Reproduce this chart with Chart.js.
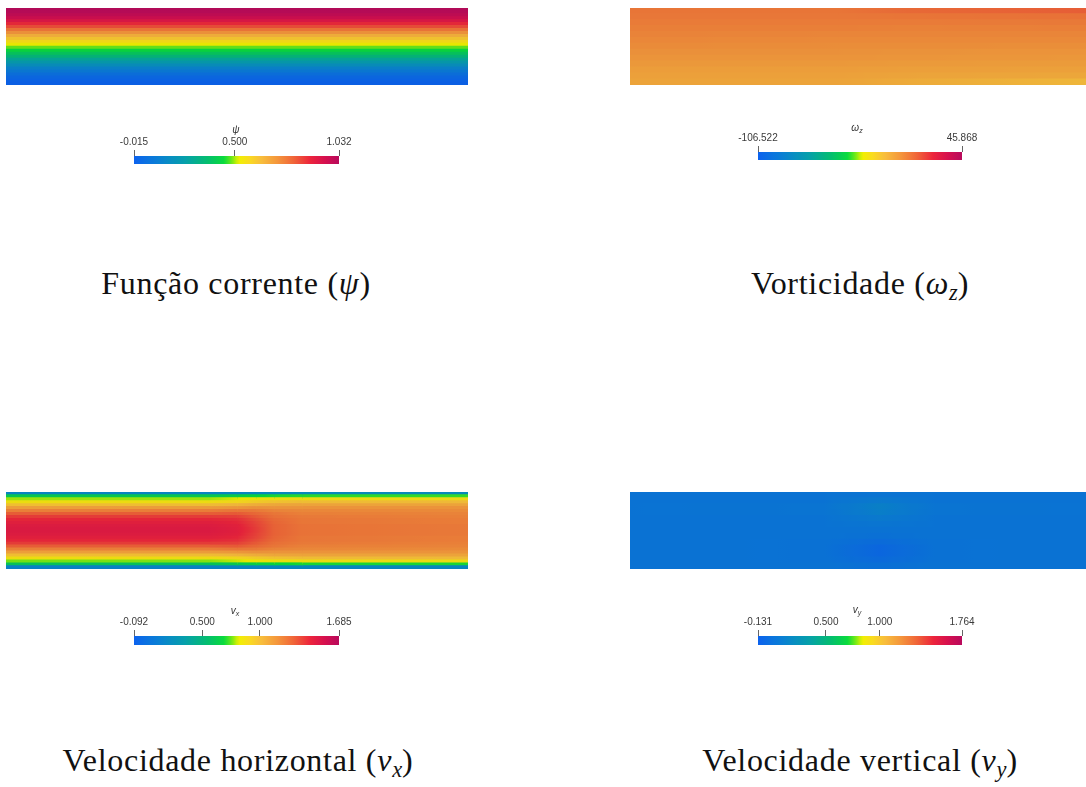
<!DOCTYPE html>
<html>
<head>
<meta charset="utf-8">
<script src="https://cdn.jsdelivr.net/npm/chart.js@4"></script>
<style>
  html, body { margin: 0; padding: 0; background: #fff; overflow: hidden; width: 1086px; height: 787px; }
  canvas { position: absolute; display: block; }
  .cap { position: absolute; font-family: "Liberation Serif", "DejaVu Serif", serif; font-size: 32px; line-height: 32px;
         color: #111; white-space: nowrap; transform: translateX(-50%); letter-spacing: 0.7px; }
  .cap sub { font-size: 0.7em; line-height: 0; vertical-align: -0.28em; letter-spacing: 0; }
  .cbt { position: absolute; font-family: "Liberation Sans", Arial, sans-serif; font-size: 10px; line-height: 12px;
         font-style: italic; color: #333; white-space: nowrap; transform: translateX(-50%); }
  .cbt sub { font-size: 0.7em; line-height: 0; vertical-align: -0.3em; }
</style>
</head>
<body>
<canvas id="fieldPsi"   width="462" height="77" style="left:6px;top:8px"></canvas>
<canvas id="fieldOmega" width="462" height="77" style="left:630px;top:8px"></canvas>
<canvas id="fieldVx"    width="462" height="77" style="left:6px;top:492px"></canvas>
<canvas id="fieldVy"    width="462" height="77" style="left:630px;top:492px"></canvas>

<canvas id="barPsi"   width="285" height="30" style="left:94px;top:134px"></canvas>
<canvas id="barOmega" width="284" height="30" style="left:718px;top:130px"></canvas>
<canvas id="barVx"    width="285" height="31" style="left:94px;top:614px"></canvas>
<canvas id="barVy"    width="284" height="31" style="left:718px;top:614px"></canvas>

<div class="cbt" style="left:236px;top:124px"><i>ψ</i></div>
<div class="cbt" style="left:857px;top:122px"><i>ω</i><sub>z</sub></div>
<div class="cbt" style="left:235px;top:605px"><i>v</i><sub>x</sub></div>
<div class="cbt" style="left:857px;top:604px"><i>v</i><sub>y</sub></div>

<div class="cap" style="left:236px;top:267px">Função corrente (<i>ψ</i>)</div>
<div class="cap" style="left:860px;top:267px">Vorticidade (<i>ω</i><sub><i>z</i></sub>)</div>
<div class="cap" style="left:238px;top:744px">Velocidade horizontal (<i>v</i><sub><i>x</i></sub>)</div>
<div class="cap" style="left:860px;top:744px">Velocidade vertical (<i>v</i><sub><i>y</i></sub>)</div>

<script>
// ---- Colour bar ranges and tick labels ----
const psiTicks = [-0.015, 0.5, 1.032];
const psiTickLabels = ['-0.015', '0.500', '1.032'];
const omegaTicks = [-106.522, 45.868];
const omegaTickLabels = ['-106.522', '45.868'];
const vxTicks = [-0.092, 0.5, 1.0, 1.685];
const vxTickLabels = ['-0.092', '0.500', '1.000', '1.685'];
const vyTicks = [-0.131, 0.5, 1.0, 1.764];
const vyTickLabels = ['-0.131', '0.500', '1.000', '1.764'];

// ---- Fields: stations along the channel (0 = inlet, 1 = outlet);
//      each profile lists the values in rows from the top wall down ----
const psiStations = [0, 1];
const psiInlet  = [1.03, 1.02, 1.00, 0.97, 0.93, 0.88, 0.83, 0.77, 0.72, 0.66, 0.61, 0.56, 0.52,
                   0.48, 0.44, 0.39, 0.34, 0.28, 0.23, 0.18, 0.13, 0.09, 0.05, 0.02, 0.00, -0.01];
const psiOutlet = [1.03, 1.02, 1.00, 0.97, 0.93, 0.88, 0.83, 0.77, 0.72, 0.66, 0.61, 0.56, 0.52,
                   0.48, 0.44, 0.39, 0.34, 0.28, 0.23, 0.18, 0.13, 0.09, 0.05, 0.02, 0.00, -0.01];

const omegaStations = [0, 0.45, 0.6, 1];
const omegaAt000 = [7, 6.5, 5.5, 4.5, 3.5, 2.5, 1.5, 0, -1, -2.5, -4, -5, -6];
const omegaAt045 = [7, 6.5, 5.5, 4.5, 3, 2, 1, 0, -1, -2.5, -4, -5, -6];
const omegaAt060 = [10, 7, 5.5, 4, 3, 2, 1, -0.5, -1.5, -3, -4.5, -6, -8];
const omegaAt100 = [13, 8, 6, 4.5, 3, 2, 0.5, -1, -2, -3.5, -5, -7, -12];

const vxStations = [0, 0.44, 0.50, 0.54, 0.58, 0.64, 1];
const vxAt000 = [0.18, 0.62, 0.78, 0.86, 0.98, 1.10, 1.20, 1.30, 1.38, 1.43, 1.46, 1.48, 1.49,
                 1.49, 1.48, 1.46, 1.43, 1.38, 1.30, 1.20, 1.10, 0.98, 0.86, 0.76, 0.60, 0.16];
const vxAt044 = [0.18, 0.62, 0.78, 0.87, 0.99, 1.11, 1.21, 1.30, 1.38, 1.43, 1.46, 1.48, 1.49,
                 1.49, 1.48, 1.46, 1.43, 1.38, 1.30, 1.21, 1.11, 0.99, 0.87, 0.77, 0.60, 0.16];
const vxAt050 = [0.19, 0.65, 0.81, 0.90, 1.02, 1.13, 1.23, 1.31, 1.37, 1.41, 1.43, 1.45, 1.46,
                 1.46, 1.45, 1.43, 1.41, 1.37, 1.31, 1.23, 1.13, 1.02, 0.90, 0.80, 0.63, 0.17];
const vxAt054 = [0.20, 0.68, 0.84, 0.94, 1.05, 1.15, 1.22, 1.27, 1.31, 1.34, 1.36, 1.37, 1.38,
                 1.38, 1.37, 1.36, 1.34, 1.31, 1.27, 1.22, 1.15, 1.05, 0.94, 0.83, 0.66, 0.18];
const vxAt058 = [0.21, 0.70, 0.86, 0.97, 1.07, 1.14, 1.19, 1.23, 1.25, 1.27, 1.28, 1.29, 1.29,
                 1.29, 1.29, 1.28, 1.27, 1.25, 1.23, 1.19, 1.14, 1.07, 0.97, 0.85, 0.68, 0.19];
const vxAt064 = [0.22, 0.71, 0.87, 0.99, 1.08, 1.14, 1.18, 1.20, 1.22, 1.23, 1.23, 1.24, 1.24,
                 1.24, 1.24, 1.23, 1.23, 1.22, 1.20, 1.18, 1.14, 1.08, 0.99, 0.86, 0.70, 0.20];
const vxAt100 = [0.22, 0.72, 0.88, 1.00, 1.08, 1.14, 1.17, 1.19, 1.20, 1.21, 1.21, 1.22, 1.22,
                 1.22, 1.22, 1.21, 1.21, 1.20, 1.19, 1.17, 1.14, 1.08, 1.00, 0.87, 0.70, 0.20];

const vyStations = [0, 0.42, 0.54, 0.66, 1];
const vyAt000 = [0.03, 0.03, 0.03, 0.03, 0.03, 0.03, 0.03, 0.03, 0.03, 0.03, 0.03, 0.03, 0.03];
const vyAt042 = [0.03, 0.03, 0.04, 0.04, 0.03, 0.03, 0.03, 0.03, 0.02, 0.02, 0.02, 0.02, 0.03];
const vyAt054 = [0.04, 0.08, 0.13, 0.12, 0.08, 0.05, 0.03, 0.01, -0.03, -0.07, -0.07, -0.04, 0.00];
const vyAt066 = [0.03, 0.03, 0.04, 0.04, 0.03, 0.03, 0.03, 0.03, 0.02, 0.02, 0.02, 0.02, 0.03];
const vyAt100 = [0.03, 0.03, 0.03, 0.03, 0.03, 0.03, 0.03, 0.03, 0.03, 0.03, 0.03, 0.03, 0.03];

// ---- Rainbow colour map (position in range, RGB) ----
const colorMap = [
  [0.00, [12, 98, 238]],
  [0.12, [10, 128, 212]],
  [0.25, [6, 160, 170]],
  [0.36, [4, 190, 110]],
  [0.44, [10, 220, 60]],
  [0.48, [120, 235, 20]],
  [0.51, [240, 240, 0]],
  [0.56, [250, 220, 30]],
  [0.62, [248, 190, 60]],
  [0.70, [244, 150, 60]],
  [0.78, [240, 100, 56]],
  [0.86, [236, 36, 60]],
  [0.93, [214, 16, 78]],
  [1.00, [184, 10, 92]]
];
const FIELD_SHADE = 0.96;

function mapColor(f) {
  f = Math.max(0, Math.min(1, f));
  for (let i = 1; i < colorMap.length; i++) {
    if (f <= colorMap[i][0]) {
      const [f0, c0] = colorMap[i - 1], [f1, c1] = colorMap[i];
      const t = (f - f0) / (f1 - f0);
      return c0.map((c, k) => c + (c1[k] - c) * t);
    }
  }
  return colorMap[colorMap.length - 1][1];
}
function rgb(c, shade) {
  return 'rgb(' + c.map(v => Math.round(v * shade)).join(',') + ')';
}

// A field is drawn as horizontal floating bars: one row per category,
// one bar per interval between stations, shaded along the channel.
function drawField(id, stations, profiles, range) {
  const [vmin, vmax] = range;
  const rows = profiles[0].map((_, r) => String(r));
  const datasets = [];
  for (let s = 0; s < stations.length - 1; s++) {
    datasets.push({
      data: rows.map(() => [stations[s], stations[s + 1]]),
      grouped: false,
      borderWidth: 0,
      inflateAmount: 0.7,
      categoryPercentage: 1,
      barPercentage: 1,
      backgroundColor: (c) => {
        if (c.type !== 'data' || !c.chart.chartArea) return '#888';
        const xs = c.chart.scales.x;
        const p0 = xs.getPixelForValue(stations[s]);
        const p1 = xs.getPixelForValue(stations[s + 1]);
        const g = c.chart.ctx.createLinearGradient(p0, 0, p1, 0);
        const a = profiles[s][c.dataIndex], b = profiles[s + 1][c.dataIndex];
        for (let k = 0; k <= 12; k++) {
          const t = k / 12;
          const v = a + (b - a) * t;
          g.addColorStop(t, rgb(mapColor((v - vmin) / (vmax - vmin)), FIELD_SHADE));
        }
        return g;
      }
    });
  }
  new Chart(document.getElementById(id), {
    type: 'bar',
    data: { labels: rows, datasets },
    options: {
      indexAxis: 'y',
      responsive: false,
      animation: false,
      events: [],
      layout: { padding: 0 },
      scales: {
        x: { type: 'linear', min: stations[0], max: stations[stations.length - 1], display: false },
        y: { type: 'category', display: false }
      },
      plugins: { legend: { display: false }, tooltip: { enabled: false } }
    }
  });
}

// A colour legend: one floating bar spanning the range, ticks on top.
function drawColorbar(id, ticks, labels) {
  const lo = ticks[0], hi = ticks[ticks.length - 1];
  new Chart(document.getElementById(id), {
    type: 'bar',
    data: {
      labels: [''],
      datasets: [{
        data: [[lo, hi]],
        borderWidth: 0,
        categoryPercentage: 1,
        barPercentage: 1,
        backgroundColor: (c) => {
          const area = c.chart.chartArea;
          if (!area) return '#888';
          const g = c.chart.ctx.createLinearGradient(area.left, 0, area.right, 0);
          for (let k = 0; k <= 64; k++) g.addColorStop(k / 64, rgb(mapColor(k / 64), 1));
          return g;
        }
      }]
    },
    options: {
      indexAxis: 'y',
      responsive: false,
      animation: false,
      events: [],
      layout: { padding: { left: 40, right: 40, top: 0, bottom: 0 } },
      scales: {
        x: {
          type: 'linear', position: 'top', min: lo, max: hi,
          afterBuildTicks: ax => { ax.ticks = ticks.map(v => ({ value: v })); },
          afterFit: ax => { ax.height = 22; },
          ticks: {
            autoSkip: false, maxRotation: 0, padding: 2, color: '#3a3a3a',
            font: { family: '"Liberation Sans", Arial, sans-serif', size: 10 },
            callback: (v, i) => labels[i]
          },
          grid: { drawOnChartArea: false, drawTicks: true, tickLength: 6, color: '#666', lineWidth: 1 },
          border: { display: false }
        },
        y: { type: 'category', display: false }
      },
      plugins: { legend: { display: false }, tooltip: { enabled: false } }
    }
  });
}

drawField('fieldPsi', psiStations, [psiInlet, psiOutlet], [psiTicks[0], psiTicks[psiTicks.length - 1]]);
drawField('fieldOmega', omegaStations, [omegaAt000, omegaAt045, omegaAt060, omegaAt100],
          [omegaTicks[0], omegaTicks[omegaTicks.length - 1]]);
drawField('fieldVx', vxStations, [vxAt000, vxAt044, vxAt050, vxAt054, vxAt058, vxAt064, vxAt100],
          [vxTicks[0], vxTicks[vxTicks.length - 1]]);
drawField('fieldVy', vyStations, [vyAt000, vyAt042, vyAt054, vyAt066, vyAt100],
          [vyTicks[0], vyTicks[vyTicks.length - 1]]);

drawColorbar('barPsi', psiTicks, psiTickLabels);
drawColorbar('barOmega', omegaTicks, omegaTickLabels);
drawColorbar('barVx', vxTicks, vxTickLabels);
drawColorbar('barVy', vyTicks, vyTickLabels);
</script>
</body>
</html>
